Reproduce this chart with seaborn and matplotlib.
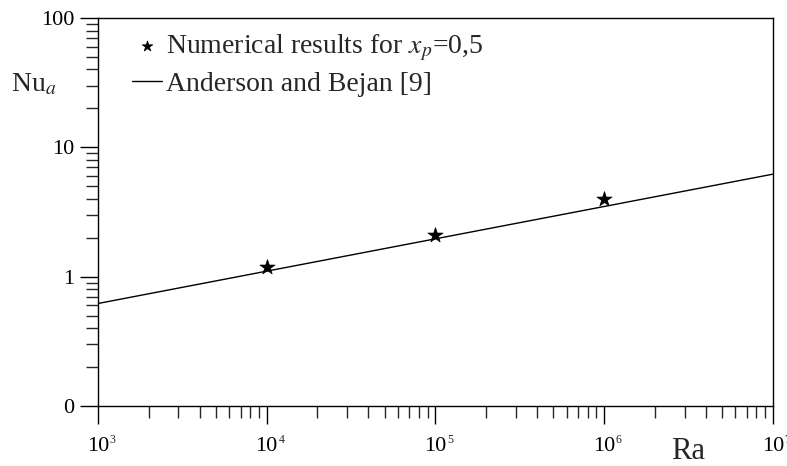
import numpy as np
import pandas as pd
import matplotlib
matplotlib.use('Agg')
import matplotlib.pyplot as plt
import matplotlib.ticker as mticker
import matplotlib.transforms as mtrans
import seaborn as sns

# numerical results (stars)
ra_num = [1e4, 1e5, 1e6]
nu_num = [1.19, 2.11, 4.0]

# Anderson and Bejan correlation, read at the plot edges
ra_ab = [1e3, 1e7]
nu_ab = [0.62, 6.2]

ytick_vals = [0.1, 1, 10, 100]
ytick_labels = ['0', '1', '10', '100']
xtick_vals = [1e3, 1e4, 1e5, 1e6, 1e7]
xtick_exps = ['3', '4', '5', '6', '7']

sns.set_style('ticks')
plt.rcParams['font.family'] = ['Liberation Serif', 'DejaVu Serif']
plt.rcParams['mathtext.fontset'] = 'stix'

fig = plt.figure(figsize=(7.87, 4.66), dpi=100)
ax = fig.add_axes([0.1245, 0.1288, 0.8575, 0.8326])

df_ab = pd.DataFrame({'Ra': ra_ab, 'Nu': nu_ab})
df_num = pd.DataFrame({'Ra': ra_num, 'Nu': nu_num})

sns.lineplot(data=df_ab, x='Ra', y='Nu', color='black', linewidth=1.0,
             ax=ax, label='Anderson and Bejan [9]')
sns.scatterplot(data=df_num, x='Ra', y='Nu', marker='*', s=130, color='black',
                edgecolor='black', linewidth=0.5, ax=ax,
                label='Numerical results for $x_p$=0,5', zorder=3)

ax.set_xscale('log')
ax.set_yscale('log')
ax.set_xlim(1e3, 1e7)
ax.set_ylim(0.1, 100)

ax.yaxis.set_major_locator(mticker.FixedLocator(ytick_vals))
ax.yaxis.set_major_formatter(mticker.FixedFormatter(ytick_labels))
ax.yaxis.set_minor_locator(mticker.LogLocator(base=10, subs=np.arange(2, 10)))
ax.yaxis.set_minor_formatter(mticker.NullFormatter())
ax.xaxis.set_major_locator(mticker.FixedLocator(xtick_vals))
ax.xaxis.set_major_formatter(mticker.FixedFormatter(['10'] * len(xtick_vals)))
ax.xaxis.set_minor_locator(mticker.LogLocator(base=10, subs=np.arange(2, 10)))
ax.xaxis.set_minor_formatter(mticker.NullFormatter())

ax.tick_params(which='major', direction='out', length=13, width=1.0,
               labelsize=16, colors='black')
ax.tick_params(axis='y', which='major', pad=4)
ax.tick_params(axis='x', which='major', pad=9)
ax.tick_params(which='minor', direction='out', length=8.5, width=1.0)
for sp in ax.spines.values():
    sp.set_color('black')
    sp.set_linewidth(1.0)

# small exponents next to the "10" tick labels
trans = mtrans.blended_transform_factory(ax.transData, ax.transAxes)
for xv, ex in zip(xtick_vals, xtick_exps):
    ax.annotate(ex, xy=(xv, 0), xycoords=trans, xytext=(8.5, -20),
                textcoords='offset points', fontsize=8.5, ha='left', va='top',
                annotation_clip=False)

ax.set_xlabel('')
ax.set_ylabel('')
ax.text(-0.095, 0.828, 'Nu$_a$', transform=ax.transAxes, fontsize=20,
        ha='center', va='center')
ax.text(0.875, -0.118, 'Ra', transform=ax.transAxes, fontsize=22,
        ha='center', va='center')

handles, labels = ax.get_legend_handles_labels()
ax.legend(handles[::-1], labels[::-1], loc='upper left', frameon=False,
          fontsize=20, bbox_to_anchor=(0.05, 0.962), borderaxespad=0,
          borderpad=0, handlelength=1.1, handletextpad=0.15,
          labelspacing=0.3, markerscale=0.7)

fig.savefig('out.png', dpi=100)
